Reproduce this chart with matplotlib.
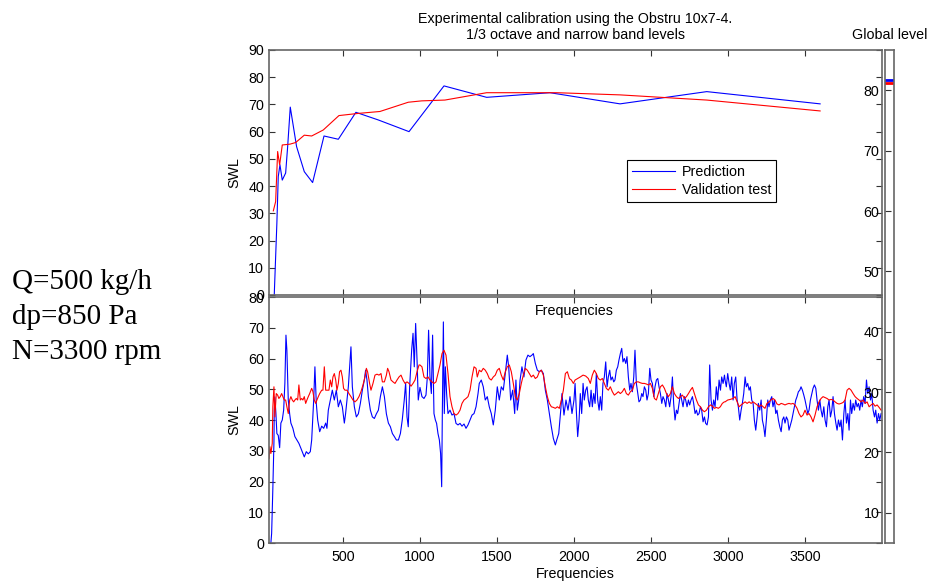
import numpy as np
import matplotlib
matplotlib.use('Agg')
import matplotlib.pyplot as plt

# 1/3 octave band levels (top panel)
oct_freq_pred = [54, 71, 80, 91, 106, 128, 141, 158, 199, 249, 303, 377, 470, 584, 729, 929,
                 1156, 1433, 1844, 2299, 2862, 3598]
oct_swl_pred = [0, 26.4, 43.5, 47.8, 42.2, 44.8, 54.5, 69, 54.5, 45.3, 41.3, 58.4, 57.2, 67.1, 64.3, 60,
                76.8, 72.6, 74.3, 70.2, 74.7, 70.2]
oct_freq_test = [48, 63, 76, 89, 106, 156, 193, 249, 297, 372, 474, 600, 740, 924, 1011, 1162,
                 1433, 1888, 2299, 2862, 3598]
oct_swl_test = [30.9, 34.3, 52.7, 47.8, 55.1, 55.4, 56, 58.7, 58.4, 60.6, 65.9, 66.7, 67.4, 70.8, 71.3, 71.6,
                74.3, 74.3, 73.5, 71.6, 67.6]

# narrow band levels (bottom panel)
nb_freq_pred = [
    32, 37, 45, 52, 54, 58, 65, 71, 80, 89, 97, 106, 115, 123, 130, 136, 145, 154, 162, 175,
    188, 201, 214, 227, 240, 249, 262, 275, 288, 297, 310, 318, 327, 336, 349, 362, 375, 388, 396, 405,
    418, 431, 444, 457, 470, 483, 496, 509, 517, 526, 535, 552, 561, 574, 587, 600, 613, 626, 639, 647,
    656, 665, 678, 691, 704, 717, 730, 743, 756, 769, 782, 795, 808, 821, 834, 847, 860, 873, 885, 898,
    907, 916, 924, 933, 946, 955, 963, 972, 981, 989,
    1000, 1013, 1026, 1039, 1048, 1056, 1065, 1074, 1082, 1091, 1100, 1108, 1117, 1126, 1134, 1141, 1145, 1152, 1158, 1165,
    1173, 1182, 1195, 1208, 1221, 1234, 1247, 1260, 1273, 1286, 1299, 1312, 1325, 1338, 1351, 1364, 1377, 1385, 1398, 1411,
    1424, 1437, 1450, 1463, 1476, 1489, 1502, 1515, 1528, 1541, 1554, 1567, 1576, 1589, 1602, 1615, 1623, 1632, 1641, 1650,
    1662, 1675, 1688, 1701, 1714, 1727, 1736, 1749, 1762, 1775, 1788, 1801, 1814, 1827, 1840, 1853, 1866, 1879, 1888, 1901,
    1914, 1922, 1935, 1948, 1961, 1974, 1987, 2000,
    2007, 2015, 2024, 2033, 2041, 2050, 2059, 2067, 2076, 2085, 2093, 2102, 2111, 2119, 2128, 2137, 2145, 2154, 2163, 2171,
    2180, 2188, 2197, 2206, 2215, 2223, 2232, 2240, 2249, 2258, 2266, 2275, 2284, 2292, 2301, 2310, 2318, 2327, 2336, 2344,
    2353, 2362, 2370, 2379, 2388, 2396, 2405, 2414, 2422, 2431, 2440, 2448, 2457, 2466, 2474, 2483, 2492, 2500, 2509, 2518,
    2526, 2535, 2544, 2552, 2561, 2570, 2578, 2587, 2596, 2604, 2613, 2621, 2630, 2639, 2647, 2656, 2665, 2673, 2682, 2691,
    2699, 2708, 2717, 2725, 2734, 2743, 2751, 2760, 2769, 2777, 2786, 2795, 2803, 2812, 2821, 2829, 2838, 2847, 2855, 2864,
    2873, 2881, 2890, 2899, 2907, 2916, 2924, 2933, 2942, 2951, 2959, 2968, 2977,
    2981, 2989, 2998, 3007, 3015, 3024, 3033, 3041, 3050, 3059, 3067, 3076, 3085, 3093, 3102, 3111, 3119, 3128, 3137, 3145,
    3154, 3163, 3171, 3180, 3189, 3197, 3206, 3215, 3223, 3232, 3240, 3249, 3258, 3266, 3275, 3284, 3292, 3301, 3310, 3318,
    3327, 3336, 3345, 3353, 3362, 3370, 3379, 3388, 3396, 3405, 3414, 3422, 3431, 3440, 3448, 3457, 3466, 3474, 3483, 3492,
    3500, 3509, 3518, 3526, 3535, 3544, 3552, 3561, 3570, 3578, 3587, 3596, 3604, 3613, 3622, 3630, 3639, 3648, 3656, 3665,
    3674, 3682, 3691, 3700, 3708, 3717, 3726, 3734, 3743, 3752, 3760, 3769, 3778, 3786, 3795, 3803, 3812, 3821, 3829, 3838,
    3847, 3855, 3864, 3872, 3881, 3890, 3899, 3907, 3916, 3925, 3933, 3942, 3951, 3959, 3968, 3977, 3985, 3994]
nb_swl_pred = [
    0, 3.1, 18, 33, 43, 47.5, 42, 35.6, 35, 31, 39, 40, 43.2, 52, 67.6, 62.7, 46.5, 42, 39, 37.3,
    34.6, 33.5, 32.4, 30.8, 29.1, 28, 29.7, 29, 29.7, 33.5, 46.5, 57.3, 45.4, 40, 36.2, 38, 37.3, 39, 37.3, 43.2,
    46.5, 49.7, 46.5, 49.7, 44.3, 46.5, 44.3, 39, 42, 46.5, 50.8, 63.8, 50.8, 44.3, 41, 42, 45.4, 49.7, 53, 56.2,
    53, 47.6, 43.2, 41, 40.5, 42, 43.2, 47.6, 50.8, 47.6, 42, 39, 37.8, 35.6, 34.6, 33.5, 33.5, 35.6, 40, 46.5,
    52, 41, 37.8, 50.8, 62.7, 68.2, 57.3, 71.4, 59.5, 46.5,
    50.6, 47.6, 47, 48.1, 54, 69.2, 54, 48.6, 67.6, 42.1, 40, 38.9, 35.6, 33.5, 29.1, 18.3, 41, 71.9, 42.1, 57.3,
    48.6, 42.1, 43.2, 41.6, 42.1, 38.9, 38.4, 38.9, 38, 38.7, 37.3, 38.4, 40, 41.6, 42.1, 44.3, 48.6, 51.9, 53, 50.8,
    46.5, 47.6, 44.3, 42.1, 38.4, 43.2, 50.8, 46.5, 50.8, 49.7, 55.1, 61.1, 57.3, 46.5, 49.7, 42.1, 53, 43.2, 46.5, 53,
    57.3, 54, 59.5, 61.1, 60.6, 61.1, 61.6, 58.4, 56.2, 55.7, 56.2, 55.1, 49.7, 46.5, 42.1, 37.8, 34, 31.9, 33.5, 35.6,
    43.2, 48.6, 41.6, 46.5, 43.2, 47.6, 42.1, 46.5,
    51.9, 43.2, 34.6, 40, 48.6, 42.1, 51.9, 46.5, 49.7, 50.8, 46.5, 44.3, 49.7, 44.3, 48.6, 45.4, 55.1, 46.5, 43.2, 47.6,
    43.2, 51.9, 54, 58.9, 50.8, 54, 56.2, 53, 54, 52.4, 53, 56.2, 57.3, 59.5, 61.6, 63.3, 58.9, 60, 58.4, 60.6,
    54, 49.7, 51.9, 49.2, 54, 62.7, 51.9, 48.6, 45.9, 46.5, 48.6, 47.6, 50.8, 49.7, 46.5, 48.6, 56.8, 53, 51.9, 47.6,
    50.8, 53, 53.5, 50.8, 48.6, 45.4, 47.6, 46.5, 44.3, 48.6, 46.5, 44.3, 47.6, 54, 45.4, 40, 43.2, 42.1, 45.4, 48.6,
    46.5, 44.3, 47.6, 46.5, 44.3, 46.5, 44.9, 46.5, 47.6, 45.4, 42.1, 43.2, 41.6, 42.1, 44.3, 43.2, 39.4, 41, 38.9, 38.4,
    41, 57.9, 46.5, 43.2, 46.5, 44.3, 50.8, 46.5, 53, 49.7, 54, 51.9, 54.6,
    53, 50.8, 55.1, 51.9, 49.7, 54, 46.5, 51.9, 54, 46.5, 44.3, 40, 43.2, 45.4, 48.6, 54, 50.8, 51.9, 49.7, 50.8,
    46.5, 45.4, 40, 36.7, 41, 45.4, 43.2, 46.5, 40, 37.8, 34.6, 40, 46.5, 44.3, 46.5, 47.6, 44.3, 46.5, 42.1, 43.2,
    40, 37.8, 36.2, 40, 41, 39, 41, 40, 36.7, 38.4, 40, 42.1, 44.3, 46.5, 47.6, 49.2, 49.7, 50.8, 49.7, 48.1,
    46.5, 44.3, 42.1, 43.2, 46.5, 48.6, 50.3, 51.4, 50.3, 46.5, 43.2, 46.5, 43.2, 41, 44.3, 40, 37.8, 44.3, 46.5, 41,
    43.2, 47.6, 42.1, 39, 36.7, 40, 37.8, 40, 33.5, 42.1, 46.5, 39, 42.1, 36.7, 46.5, 42.1, 45.4, 43.2, 46.5, 44.3,
    45.4, 43.2, 46.5, 44.3, 47.6, 45.4, 53, 48.6, 50.8, 46.5, 48.6, 43.2, 41, 43.2, 39, 42.1, 40, 42.1]

nb_freq_test = [
    20, 26, 32, 41, 45, 52, 58, 67, 76, 84, 93, 102, 110, 119, 128, 136, 145, 154, 162, 171,
    180, 188, 197, 206, 214, 223, 232, 240, 249, 258, 266, 275, 284, 297, 305, 314, 323, 331, 340, 349,
    362, 370, 379, 388, 401, 409, 418, 427, 435, 444, 453, 461, 470, 478, 487, 496, 504, 513, 526, 539,
    552, 565, 578, 591, 604, 617, 630, 643, 652, 660, 673, 682, 695, 708, 721, 734, 747, 756, 769, 782,
    790, 799, 812, 825, 838, 851, 864, 877, 890, 903, 916, 929, 942, 955, 968, 981, 994,
    1000, 1013, 1026, 1039, 1052, 1065, 1078, 1091, 1104, 1117, 1130, 1143, 1156, 1169, 1182, 1195, 1208, 1221, 1234, 1247,
    1260, 1273, 1286, 1299, 1312, 1325, 1338, 1351, 1364, 1372, 1385, 1398, 1411, 1424, 1437, 1450, 1463, 1476, 1489, 1502,
    1515, 1528, 1541, 1554, 1567, 1580, 1593, 1606, 1619, 1632, 1645, 1658, 1671, 1684, 1697, 1710, 1723, 1736, 1749, 1762,
    1775, 1788, 1801, 1814, 1827, 1840, 1853, 1866, 1879, 1892, 1905, 1918, 1931, 1944, 1957, 1970, 1983, 1996,
    2007, 2024, 2041, 2059, 2076, 2093, 2106, 2119, 2132, 2145, 2158, 2171, 2184, 2197, 2210, 2223, 2236, 2249, 2262, 2275,
    2288, 2301, 2314, 2327, 2340, 2353, 2366, 2379, 2392, 2405, 2418, 2431, 2444, 2457, 2470, 2483, 2496, 2509, 2522, 2535,
    2548, 2561, 2574, 2587, 2600, 2613, 2626, 2639, 2652, 2665, 2678, 2691, 2704, 2717, 2730, 2743, 2756, 2769, 2782, 2795,
    2808, 2821, 2834, 2847, 2860, 2873, 2886, 2899, 2912, 2924, 2937, 2950, 2963, 2976,
    2981, 2998, 3015, 3033, 3046, 3059, 3072, 3085, 3098, 3111, 3124, 3137, 3150, 3163, 3176, 3189, 3202, 3215, 3228, 3240,
    3253, 3266, 3279, 3292, 3305, 3318, 3331, 3345, 3357, 3370, 3383, 3396, 3409, 3422, 3435, 3448, 3461, 3474, 3487, 3500,
    3513, 3526, 3539, 3552, 3565, 3578, 3591, 3604, 3617, 3630, 3643, 3656, 3669, 3682, 3695, 3708, 3721, 3734, 3747, 3760,
    3773, 3786, 3799, 3812, 3825, 3838, 3851, 3864, 3877, 3890, 3903, 3916, 3929, 3942, 3955, 3968, 3981, 3994]
nb_swl_test = [
    27.5, 31.3, 29.1, 32.4, 44.3, 50.8, 41, 48.6, 48.1, 47, 47.6, 48.6, 47.6, 46.5, 46.5, 44.3, 42.1, 46.5, 47.6, 46.5,
    45.9, 46.5, 47, 46.5, 51.4, 46.5, 47, 46.5, 47.6, 45.4, 46.5, 47.6, 48.6, 50.3, 49.2, 46.5, 45.4, 46.5, 47.6, 48.6,
    49.7, 49.7, 57.3, 49.7, 49.7, 49.7, 53, 50.8, 54, 55.1, 53, 49.7, 51.9, 55.7, 56.2, 54, 50.3, 49.7, 49.7, 48.6,
    47.6, 46.5, 45.9, 46.5, 47.6, 49.2, 51.4, 54, 56.8, 55.7, 51.9, 49.7, 51.9, 54.6, 54.9, 54.6, 55.1, 52.4, 52.4, 54.6,
    56.8, 55.7, 53, 52.4, 51.9, 53, 54, 54.6, 53, 51.9, 52.4, 51.9, 51, 51.9, 53, 55.7, 57.9,
    57.9, 57.3, 54, 53.5, 54, 53, 52.4, 51.9, 52.4, 55.1, 57.9, 61.6, 62.7, 61.1, 55.1, 47.6, 44.3, 42.1, 41.6, 42.1,
    43.2, 45.4, 46.5, 47, 47.6, 49.7, 54, 57.3, 56.8, 54, 56.2, 55.7, 56.8, 56.2, 55.1, 53.5, 53, 54, 54.6, 56.2,
    56.8, 54.6, 53, 55.7, 57.3, 57.9, 55.7, 51.9, 47.6, 46.5, 48.6, 51.9, 54.6, 56.8, 56.2, 55.1, 54, 54.6, 53.5, 54,
    55.7, 56.2, 54.6, 50.8, 47.6, 45.4, 44.3, 44.1, 43.8, 44.3, 43.8, 46.5, 49.7, 55.1, 55.7, 53.5, 53, 51.9,
    53, 53.5, 54, 54.6, 54.3, 53.5, 51.9, 54.6, 56.2, 55.1, 53.5, 53, 53.5, 51.9, 50.3, 49.7, 50.8, 49.2, 48.1, 48.6,
    49.2, 48.6, 49.2, 50.3, 48.6, 48.1, 49.2, 49.7, 51.9, 52.4, 52.4, 52.1, 51.9, 51.9, 51.7, 51.4, 51.9, 50.3, 47, 46.5,
    48.6, 50.8, 51.4, 50.3, 48.6, 47.6, 48.6, 50.8, 48.6, 47.6, 47, 47.6, 48.1, 47, 47.6, 48.6, 49.7, 50.6, 48.6, 46.5,
    44.9, 44.3, 43.2, 42.7, 43.2, 44.3, 44.9, 44.5, 43.8, 44.1, 43.8, 44.3, 45.4, 45.9,
    45.9, 46.5, 46.7, 47, 47.6, 45.9, 44.3, 44.9, 45.4, 45.9, 45.4, 45.9, 45.4, 45.9, 45.4, 44.9, 44.3, 44.9, 44.3, 43.8,
    45.4, 45.9, 46.5, 47, 46.5, 45.2, 44.9, 45.4, 45.2, 44.9, 45.2, 45.4, 45.2, 45.4, 44.9, 43.8, 42.1, 41, 41.6, 43.2,
    41.6, 42.1, 41, 39.4, 41.6, 44.3, 45.9, 47, 47.6, 47.3, 47, 46.5, 46.7, 46.5, 45.9, 45.4, 45.2, 45.4, 45.7, 46.5,
    49.7, 50.3, 49.7, 48.6, 47.6, 47, 46.5, 45.9, 46.5, 45.4, 45.9, 44.3, 44.9, 45.4, 44.5, 44.9, 44.1, 43.2]

# global levels
global_pred = 81.8
global_test = 81.2

side_text = ['Q=500 kg/h', 'dp=850 Pa', 'N=3300 rpm']

plt.rcParams['font.family'] = 'Liberation Sans'
plt.rcParams['font.size'] = 10.3
frame_col = '#666666'

fig = plt.figure(figsize=(9.27, 5.81), dpi=100)
ax1 = fig.add_axes([0.2902, 0.4923, 0.6613, 0.4217])
ax2 = fig.add_axes([0.2902, 0.0654, 0.6613, 0.4234])
ax3 = fig.add_axes([0.9547, 0.0654, 0.0097, 0.8485])

for ax in (ax1, ax2, ax3):
    for s in ax.spines.values():
        s.set_color(frame_col)
        s.set_linewidth(1.2)

# top panel: 1/3 octave
ax1.plot(oct_freq_pred, oct_swl_pred, color='#0000ff', lw=0.8, label='Prediction')
ax1.plot(oct_freq_test, oct_swl_test, color='#ff0000', lw=0.8, label='Validation test')
ax1.set_xlim(20, 4000)
ax1.set_ylim(0, 90)
ax1.set_yticks(np.arange(0, 91, 10))
ax1.set_xticks([500, 1000, 1500, 2000, 2500, 3000, 3500])
ax1.set_xticklabels([])
ax1.tick_params(direction='in', top=True, right=True, length=4, pad=3.5, color='#333333')
ax1.set_ylabel('SWL', labelpad=5)
ax1.set_title('Experimental calibration using the Obstru 10x7-4.\n1/3 octave and narrow band levels',
              pad=8, fontsize=10.3)
leg = ax1.legend(loc='lower left', bbox_to_anchor=(0.584, 0.38), fancybox=False, edgecolor='black',
                 framealpha=1, borderaxespad=0, fontsize=10.3, handlelength=3.0, handletextpad=0.5,
                 borderpad=0.35, labelspacing=0.25)
leg.get_frame().set_linewidth(0.8)

# bottom panel: narrow band
ax2.plot(nb_freq_pred, nb_swl_pred, color='#0000ff', lw=0.8)
ax2.plot(nb_freq_test, nb_swl_test, color='#ff0000', lw=0.8)
ax2.set_xlim(20, 4000)
ax2.set_ylim(0, 80)
ax2.set_yticks(np.arange(0, 81, 10))
ax2.set_xticks([500, 1000, 1500, 2000, 2500, 3000, 3500])
ax2.tick_params(direction='in', top=True, right=True, length=4, color='#333333')
ax2.tick_params(axis='y', pad=3.5)
ax2.tick_params(axis='x', pad=5)
ax2.set_ylabel('SWL', labelpad=5)
ax2.set_xlabel('Frequencies', labelpad=2)

# top panel x label shows over the bottom panel
fig.text(0.620, 1 - 311 / 581, 'Frequencies', ha='center', va='center', fontsize=10.3)

# global level strip
ax3.axhline(global_pred, color='#0000ff', lw=2)
ax3.axhline(global_test, color='#ff0000', lw=2)
ax3.set_ylim(5, 86.7)
ax3.set_xlim(0, 1)
ax3.set_xticks([])
ax3.set_yticks(np.arange(10, 81, 10))
ax3.tick_params(direction='in', length=4, pad=4, color='#333333')
ax3.set_title('Global level', pad=8, fontsize=10.3)

for i, t in enumerate(side_text):
    fig.text(12 / 927, 1 - (282 + 35 * i) / 581, t, ha='left', va='center',
             family='Liberation Serif', fontsize=21)

fig.savefig('out.png', dpi=100)
